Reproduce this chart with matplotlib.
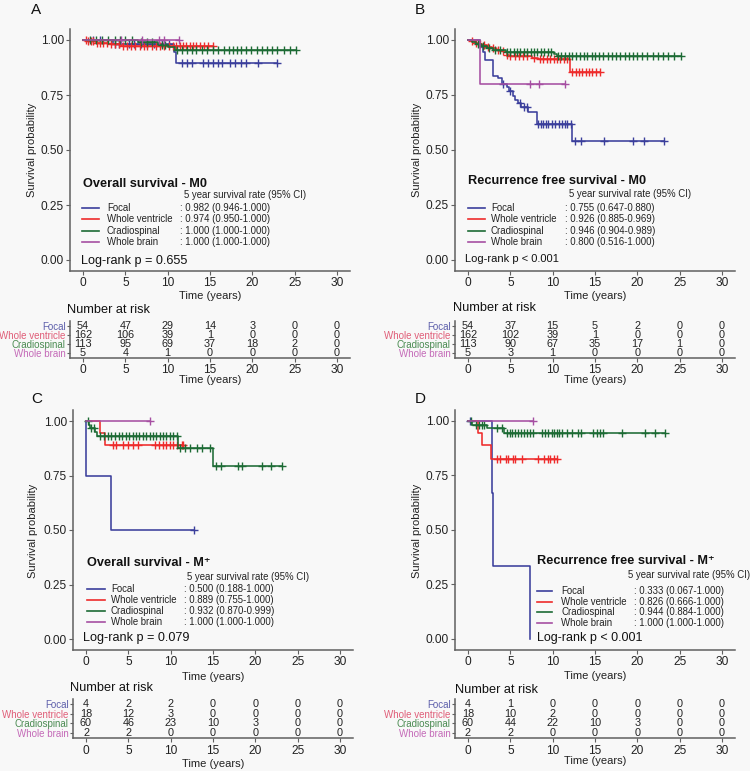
import numpy as np
import matplotlib
matplotlib.use("Agg")
import matplotlib.pyplot as plt

plt.rcParams['font.family'] = ['Liberation Sans', 'DejaVu Sans']

# ---------------- data ----------------
groups = ["Focal", "Whole ventricle", "Cradiospinal", "Whole brain"]
risk_times = [0, 5, 10, 15, 20, 25, 30]

# Panel A: Overall survival - M0
A_focal_t = [0, 3.5, 10.8, 10.95]
A_focal_s = [1.0, 0.982, 0.945, 0.897]
A_focal_c = [1.2, 2.0, 3.8, 4.3, 5.4, 6.0, 6.8, 7.6, 8.4, 9.3, 10.2, 11.66, 12.25, 12.84,
             14.2, 14.8, 15.4, 16.0, 16.4, 17.4, 17.96, 18.7, 19.3, 20.7, 22.9]
A_wv_t = [0, 0.5, 1.5, 3.0, 4.5]
A_wv_s = [1.0, 0.994, 0.988, 0.981, 0.974]
A_wv_c = [0.3, 0.6, 0.9, 1.2, 1.6, 2.0, 2.4, 2.8, 3.3, 3.8, 4.2, 4.7, 5.2, 5.7, 6.2, 6.7,
          7.2, 7.6, 8.1, 8.6, 9.1, 9.6, 10.1, 10.6, 11.0, 11.4, 11.8, 12.2, 12.6, 13.0,
          13.4, 13.8, 14.3, 14.8, 15.4]
A_cr_t = [0, 6.5, 8.8, 10.0, 10.9]
A_cr_s = [1.0, 0.99, 0.979, 0.968, 0.955]
A_cr_c = [0.8, 1.5, 2.2, 3.0, 3.8, 4.4, 5.0, 5.8, 6.8, 7.5, 8.2, 9.3, 9.7, 11.07, 11.65,
          12.25, 12.84, 13.4, 14.0, 14.6, 15.4, 16.0, 16.6, 17.2, 17.75, 18.2, 18.7, 19.3,
          19.9, 20.5, 21.1, 21.7, 22.3, 22.9, 23.7, 24.4, 25.2]
A_wb_t = [0]
A_wb_s = [1.0]
A_wb_c = [4.5, 7.0, 9.0, 9.6, 11.3]

# Panel B: Recurrence free survival - M0
B_focal_t = [0, 1.4, 1.8, 2.0, 2.9, 3.6, 4.0, 4.6, 4.9, 5.3, 5.5, 5.9, 6.3, 7.1, 8.2, 12.3]
B_focal_s = [1.0, 0.969, 0.947, 0.909, 0.837, 0.825, 0.80, 0.787, 0.769, 0.746, 0.727,
             0.712, 0.693, 0.673, 0.616, 0.54]
B_focal_c = [4.17, 4.96, 6.1, 6.6, 7.0, 8.3, 8.6, 8.9, 9.2, 9.5, 9.9, 10.3, 10.7, 11.1,
             11.4, 11.7, 12.2, 12.6, 13.4, 16.1, 19.5, 20.8, 23.1]
B_wv_t = [0, 0.3, 0.8, 1.2, 1.7, 2.2, 2.8, 3.3, 3.9, 4.3, 4.6, 4.9, 7.5, 8.3, 12.05]
B_wv_s = [1.0, 0.994, 0.988, 0.982, 0.975, 0.969, 0.962, 0.956, 0.950, 0.944, 0.932,
          0.926, 0.920, 0.913, 0.855]
B_wv_c = [0.5, 1.0, 1.4, 1.9, 2.4, 3.0, 3.6, 4.1, 4.6, 5.0, 5.5, 6.0, 6.5, 7.0, 7.8, 8.5,
          8.9, 9.3, 9.7, 10.1, 10.5, 10.9, 11.3, 11.7, 12.3, 12.7, 13.1, 13.5, 13.9, 14.3,
          14.7, 15.1, 15.6]
B_cr_t = [0, 0.5, 1.0, 1.5, 2.2, 3.0, 4.5, 10.2, 10.5]
B_cr_s = [1.0, 0.991, 0.982, 0.973, 0.964, 0.955, 0.946, 0.937, 0.928]
B_cr_c = [1.2, 1.8, 2.5, 3.2, 3.8, 4.6, 5.0, 5.4, 5.8, 6.2, 6.6, 7.0, 7.4, 7.8, 8.2, 8.6,
          9.0, 9.4, 9.8, 10.6, 11.0, 11.4, 11.9, 12.3, 12.8, 13.2, 13.7, 14.1, 14.6, 15.0,
          15.5, 16.0, 16.5, 17.0, 17.5, 18.0, 18.5, 19.0, 19.5, 20.0, 20.6, 21.2, 21.8,
          22.4, 23.0, 23.6, 24.3, 25.2]
B_wb_t = [0, 1.4]
B_wb_s = [1.0, 0.80]
B_wb_c = [7.3, 8.4, 11.5]

# Panel C: Overall survival - M+
C_focal_t = [0, 0.05, 2.95]
C_focal_s = [1.0, 0.75, 0.5]
C_focal_c = [12.7]
C_wv_t = [0, 1.65, 2.25]
C_wv_s = [1.0, 0.944, 0.889]
C_wv_c = [3.2, 3.6, 4.4, 5.0, 5.6, 6.2, 8.1, 8.6, 9.1, 9.5, 9.9, 10.3, 10.7, 11.3, 11.5]
C_cr_t = [0, 0.3, 0.47, 1.06, 1.3, 10.9, 15.0]
C_cr_s = [1.0, 0.983, 0.967, 0.95, 0.933, 0.878, 0.794]
C_cr_c = [0.2, 0.6, 0.9, 1.6, 2.1, 2.6, 3.0, 3.4, 3.9, 4.3, 4.7, 5.1, 5.5, 5.9, 6.3, 6.7,
          7.1, 7.5, 7.9, 8.3, 8.7, 9.1, 9.5, 9.9, 10.3, 10.7, 11.1, 11.7, 12.3, 13.1, 13.7,
          14.6, 15.4, 16.0, 17.9, 18.4, 20.8, 21.9, 23.1]
C_wb_t = [0]
C_wb_s = [1.0]
C_wb_c = [7.55]

# Panel D: Recurrence free survival - M+
D_focal_t = [0, 2.8, 3.0, 7.3]
D_focal_s = [1.0, 0.667, 0.333, 0.0]
D_focal_c = [0.2]
D_wv_t = [0, 1.2, 1.7, 2.75]
D_wv_s = [1.0, 0.944, 0.889, 0.826]
D_wv_c = [3.4, 3.8, 4.45, 4.75, 5.35, 5.6, 6.35, 8.3, 9.0, 9.4, 9.7, 10.1, 10.5]
D_cr_t = [0, 0.5, 2.2, 4.2]
D_cr_s = [1.0, 0.983, 0.966, 0.944]
D_cr_c = [0.3, 0.9, 1.3, 1.6, 1.9, 3.4, 4.0, 4.56, 4.96, 5.24, 5.55, 5.94, 6.22, 6.61,
          6.93, 7.32, 7.72, 8.7, 9.1, 9.5, 9.9, 10.2, 10.5, 10.8, 11.07, 11.66, 12.25,
          13.0, 13.4, 14.8, 15.2, 15.6, 16.0, 18.15, 20.9, 22.1, 23.3]
D_wb_t = [0]
D_wb_s = [1.0]
D_wb_c = [7.7]

# Number at risk
A_risk_focal = [54, 47, 29, 14, 3, 0, 0]
A_risk_wv = [162, 106, 39, 1, 0, 0, 0]
A_risk_cr = [113, 95, 69, 37, 18, 2, 0]
A_risk_wb = [5, 4, 1, 0, 0, 0, 0]
B_risk_focal = [54, 37, 15, 5, 2, 0, 0]
B_risk_wv = [162, 102, 39, 1, 0, 0, 0]
B_risk_cr = [113, 90, 67, 35, 17, 1, 0]
B_risk_wb = [5, 3, 1, 0, 0, 0, 0]
C_risk_focal = [4, 2, 2, 0, 0, 0, 0]
C_risk_wv = [18, 12, 3, 0, 0, 0, 0]
C_risk_cr = [60, 46, 23, 10, 3, 0, 0]
C_risk_wb = [2, 2, 0, 0, 0, 0, 0]
D_risk_focal = [4, 1, 0, 0, 0, 0, 0]
D_risk_wv = [18, 10, 2, 0, 0, 0, 0]
D_risk_cr = [60, 44, 22, 10, 3, 0, 0]
D_risk_wb = [2, 2, 0, 0, 0, 0, 0]

# 5-year survival rates
A_rates = [": 0.982 (0.946-1.000)", ": 0.974 (0.950-1.000)", ": 1.000 (1.000-1.000)", ": 1.000 (1.000-1.000)"]
B_rates = [": 0.755 (0.647-0.880)", ": 0.926 (0.885-0.969)", ": 0.946 (0.904-0.989)", ": 0.800 (0.516-1.000)"]
C_rates = [": 0.500 (0.188-1.000)", ": 0.889 (0.755-1.000)", ": 0.932 (0.870-0.999)", ": 1.000 (1.000-1.000)"]
D_rates = [": 0.333 (0.067-1.000)", ": 0.826 (0.666-1.000)", ": 0.944 (0.884-1.000)", ": 1.000 (1.000-1.000)"]

titles = ["Overall survival - M0", "Recurrence free survival - M0",
          "Overall survival - M\u207A", "Recurrence free survival - M\u207A"]
pvals = ["Log-rank p = 0.655", "Log-rank p < 0.001", "Log-rank p = 0.079", "Log-rank p < 0.001"]
letters = ["A", "B", "C", "D"]

# ---------------- style ----------------
BG = "#f8f8f8"
COLORS = ["#3b3f9c", "#ee2b2b", "#1d6b35", "#a64fa2"]
LABEL_COLORS = ["#5d5fab", "#e05d78", "#4b8b52", "#c46ab8"]
AXC = "#606060"

W, H = 750.0, 771.0
fig = plt.figure(figsize=(7.5, 7.71), dpi=100, facecolor=BG)


def add_ax(l, t, r, b):
    ax = fig.add_axes([l / W, 1 - b / H, (r - l) / W, (b - t) / H])
    ax.set_facecolor(BG)
    for s in ["top", "right"]:
        ax.spines[s].set_visible(False)
    for s in ["left", "bottom"]:
        ax.spines[s].set_color(AXC)
        ax.spines[s].set_linewidth(1.1)
    ax.tick_params(colors=AXC, length=3, width=0.8, labelsize=8.6, pad=1.5, labelcolor="#222222")
    return ax


def step_value(t, s, x):
    idx = np.searchsorted(np.asarray(t), np.asarray(x), side="right") - 1
    return np.asarray(s)[idx]


panels = [
    dict(curves=[(A_focal_t, A_focal_s, A_focal_c), (A_wv_t, A_wv_s, A_wv_c),
                 (A_cr_t, A_cr_s, A_cr_c), (A_wb_t, A_wb_s, A_wb_c)],
         risk=[A_risk_focal, A_risk_wv, A_risk_cr, A_risk_wb], rates=A_rates,
         main=(70.3, 29, 349.7, 271), risk_box=(70.3, 321.1, 349.7, 357.5),
         letter=(31, 10), ylab=(32, 150), xlab_y=296, nar=(67, 310), xlab2_y=380,
         title=(0.0, 0.345), sub=(11.95, 0.295), rows=[0.235, 0.185, 0.133, 0.083],
         line_x=(-0.1, 1.9), name_x=2.83, val_x=11.45, p=(-0.27, -0.003), psize=9.1),
    dict(curves=[(B_focal_t, B_focal_s, B_focal_c), (B_wv_t, B_wv_s, B_wv_c),
                 (B_cr_t, B_cr_s, B_cr_c), (B_wb_t, B_wb_s, B_wb_c)],
         risk=[B_risk_focal, B_risk_wv, B_risk_cr, B_risk_wb], rates=B_rates,
         main=(455.3, 29, 734.7, 270.5), risk_box=(455.3, 321.1, 734.7, 357.5),
         letter=(415, 10), ylab=(417.5, 150), xlab_y=296, nar=(453, 308), xlab2_y=380,
         title=(-0.04, 0.358), sub=(11.9, 0.298), rows=[0.233, 0.183, 0.131, 0.081],
         line_x=(0.0, 2.0), name_x=2.7, val_x=11.4, p=(-0.35, 0.001), psize=8.0),
    dict(curves=[(C_focal_t, C_focal_s, C_focal_c), (C_wv_t, C_wv_s, C_wv_c),
                 (C_cr_t, C_cr_s, C_cr_c), (C_wb_t, C_wb_s, C_wb_c)],
         risk=[C_risk_focal, C_risk_wv, C_risk_cr, C_risk_wb], rates=C_rates,
         main=(73.3, 410.1, 352.7, 649.9), risk_box=(73.3, 699.2, 352.7, 737.8),
         letter=(31, 399), ylab=(33, 531), xlab_y=677, nar=(70, 688), xlab2_y=764,
         title=(0.15, 0.347), sub=(11.9, 0.283), rows=[0.228, 0.179, 0.128, 0.079],
         line_x=(0.1, 2.2), name_x=2.95, val_x=11.6, p=(-0.3, 0.003), psize=9.1),
    dict(curves=[(D_focal_t, D_focal_s, D_focal_c), (D_wv_t, D_wv_s, D_wv_c),
                 (D_cr_t, D_cr_s, D_cr_c), (D_wb_t, D_wb_s, D_wb_c)],
         risk=[D_risk_focal, D_risk_wv, D_risk_cr, D_risk_wb], rates=D_rates,
         main=(455.3, 410.1, 734.7, 649.6), risk_box=(455.3, 699.2, 734.7, 737.8),
         letter=(415, 399), ylab=(417.5, 531), xlab_y=676, nar=(455, 690), xlab2_y=761,
         title=(8.1, 0.358), sub=(18.9, 0.293), rows=[0.220, 0.170, 0.121, 0.071],
         line_x=(8.1, 9.9), name_x=11.0, val_x=19.6, p=(8.1, 0.002), psize=9.0),
]

for k, P in enumerate(panels):
    ax = add_ax(*P["main"])
    for g, (t, s, c) in enumerate(P["curves"]):
        end = max(t[-1], max(c))
        xs = list(t) + [end]
        ys = list(s) + [s[-1]]
        ax.step(xs, ys, where="post", color=COLORS[g], lw=1.15, zorder=2 + g)
        cy = step_value(t, s, c)
        ax.plot(c, cy, ls="none", marker="+", ms=5.5, mew=1.0, color=COLORS[g], zorder=2 + g)
    ax.set_xlim(-1.5, 31.5)
    ax.set_ylim(-0.05, 1.05)
    ax.set_xticks(risk_times)
    ax.set_yticks([0, 0.25, 0.5, 0.75, 1.0])
    ax.set_yticklabels(["0.00", "0.25", "0.50", "0.75", "1.00"])

    # annotation block
    ax.text(P["title"][0], P["title"][1], titles[k], fontsize=9.2, fontweight="bold",
            ha="left", va="center", color="#111111", clip_on=False)
    ax.text(P["sub"][0], P["sub"][1], "5 year survival rate (95% CI)", fontsize=6.9,
            ha="left", va="center", color="#222222", clip_on=False)
    for g in range(4):
        y = P["rows"][g]
        ax.plot(P["line_x"], [y, y], color=COLORS[g], lw=1.2, clip_on=False)
        ax.text(P["name_x"], y, groups[g], fontsize=6.9, ha="left", va="center", color="#222222")
        ax.text(P["val_x"], y, P["rates"][g], fontsize=6.9, ha="left", va="center", color="#222222")
    ax.text(P["p"][0], P["p"][1], pvals[k], fontsize=P["psize"], ha="left", va="center",
            color="#111111")

    l, t_, r, b = P["main"]
    fig.text(P["letter"][0] / W, 1 - P["letter"][1] / H, letters[k], fontsize=11,
             ha="left", va="center", color="#111111")
    fig.text(P["ylab"][0] / W, 1 - P["ylab"][1] / H, "Survival probability", fontsize=8,
             rotation=90, ha="center", va="center", color="#222222")
    fig.text((l + r) / 2 / W, 1 - P["xlab_y"] / H, "Time (years)", fontsize=8,
             ha="center", va="center", color="#222222")

    # risk table
    rx = add_ax(*P["risk_box"])
    rx.set_xlim(-1.5, 31.5)
    rx.set_ylim(0.5, 4.5)
    rx.set_xticks(risk_times)
    rx.set_yticks([4, 3, 2, 1])
    rx.set_yticklabels(groups, fontsize=7)
    rx.tick_params(axis="y", length=2.5, pad=1)
    rx.tick_params(axis="x", labelsize=8.6, pad=2)
    for lab, col in zip(rx.get_yticklabels(), LABEL_COLORS):
        lab.set_color(col)
    for g in range(4):
        yrow = 4 - g
        for tt, n in zip(risk_times, P["risk"][g]):
            rx.text(tt, yrow, str(n), fontsize=7.8, ha="center", va="center", color="#222222")
    fig.text(P["nar"][0] / W, 1 - P["nar"][1] / H, "Number at risk", fontsize=9.2,
             ha="left", va="center", color="#111111")
    fig.text((l + r) / 2 / W, 1 - P["xlab2_y"] / H, "Time (years)", fontsize=8,
             ha="center", va="center", color="#222222")

fig.savefig("out.png", dpi=100, facecolor=BG)
